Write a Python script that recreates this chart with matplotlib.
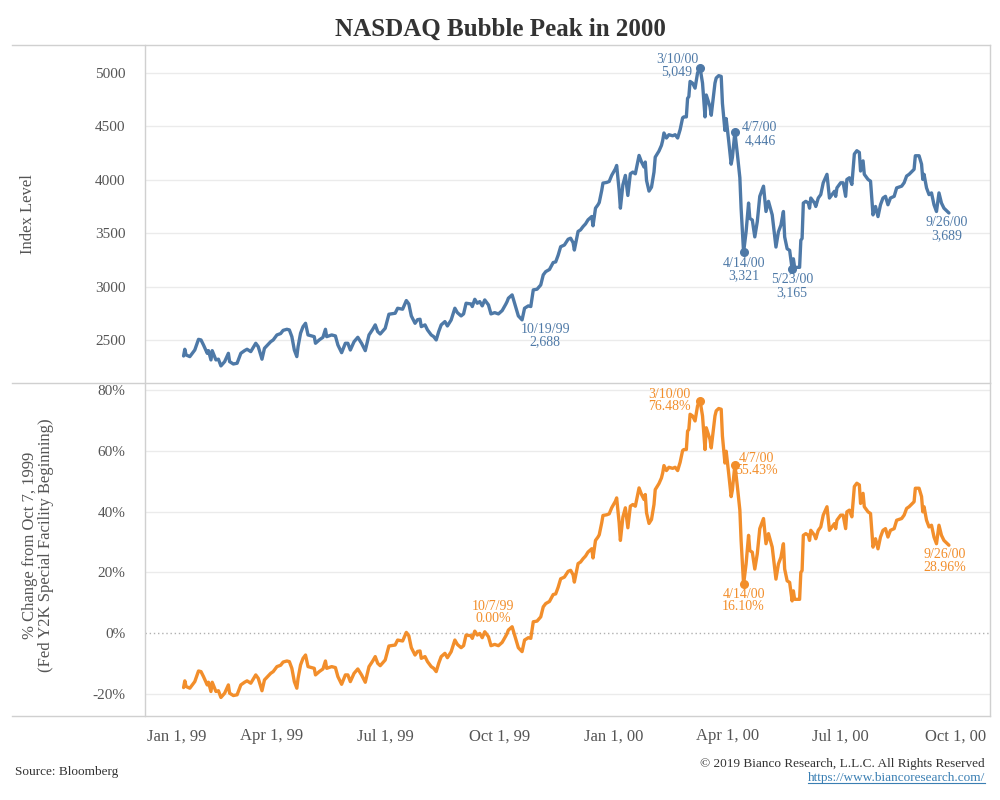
import numpy as np
import pandas as pd
import matplotlib
matplotlib.use("Agg")
import matplotlib.pyplot as plt
from matplotlib.lines import Line2D

plt.rcParams['font.family'] = ['Liberation Serif', 'DejaVu Serif']

# ---------------- data ----------------
dates = [
    "1999-01-20", "1999-01-21", "1999-01-22", "1999-01-25", "1999-01-29", "1999-02-01", "1999-02-03",
    "1999-02-05", "1999-02-08", "1999-02-09", "1999-02-11", "1999-02-12", "1999-02-15", "1999-02-17",
    "1999-02-19", "1999-02-22", "1999-02-25", "1999-02-26", "1999-03-01", "1999-03-04", "1999-03-07",
    "1999-03-10", "1999-03-12", "1999-03-15", "1999-03-19", "1999-03-21", "1999-03-24", "1999-03-26",
    "1999-03-31", "1999-04-02", "1999-04-05", "1999-04-08", "1999-04-10", "1999-04-13", "1999-04-15",
    "1999-04-17", "1999-04-19", "1999-04-21", "1999-04-22", "1999-04-24", "1999-04-26", "1999-04-28",
    "1999-04-30", "1999-05-03", "1999-05-05", "1999-05-06", "1999-05-09", "1999-05-12", "1999-05-14",
    "1999-05-15", "1999-05-19", "1999-05-22", "1999-05-24", "1999-05-27", "1999-05-30", "1999-06-01",
    "1999-06-03", "1999-06-06", "1999-06-09", "1999-06-12", "1999-06-15", "1999-06-18", "1999-06-21",
    "1999-06-23", "1999-06-25", "1999-06-27", "1999-07-01", "1999-07-04", "1999-07-09", "1999-07-11",
    "1999-07-15", "1999-07-18", "1999-07-20", "1999-07-22", "1999-07-25", "1999-07-27", "1999-07-29",
    "1999-07-30", "1999-08-02", "1999-08-04", "1999-08-07", "1999-08-09", "1999-08-11", "1999-08-13",
    "1999-08-15", "1999-08-18", "1999-08-20", "1999-08-23", "1999-08-26", "1999-08-28", "1999-08-31",
    "1999-09-02", "1999-09-04", "1999-09-08", "1999-09-09", "1999-09-11", "1999-09-13", "1999-09-15",
    "1999-09-17", "1999-09-19", "1999-09-22", "1999-09-24", "1999-09-27", "1999-09-30", "1999-10-03",
    "1999-10-06", "1999-10-07", "1999-10-08", "1999-10-11", "1999-10-13", "1999-10-16", "1999-10-18",
    "1999-10-19", "1999-10-21", "1999-10-24", "1999-10-26", "1999-10-28", "1999-10-31", "1999-11-03",
    "1999-11-05", "1999-11-07", "1999-11-10", "1999-11-13", "1999-11-15", "1999-11-17", "1999-11-19",
    "1999-11-22", "1999-11-25", "1999-11-27", "1999-11-29", "1999-11-30", "1999-12-03", "1999-12-05",
    "1999-12-07", "1999-12-09", "1999-12-11", "1999-12-14", "1999-12-15", "1999-12-17", "1999-12-19",
    "1999-12-20", "1999-12-22", "1999-12-23", "1999-12-26", "1999-12-28", "1999-12-30", "2000-01-02",
    "2000-01-03", "2000-01-05", "2000-01-06", "2000-01-08", "2000-01-10", "2000-01-12", "2000-01-14",
    "2000-01-16", "2000-01-18", "2000-01-21", "2000-01-23", "2000-01-25", "2000-01-26", "2000-01-27",
    "2000-01-29", "2000-01-31", "2000-02-02", "2000-02-03", "2000-02-06", "2000-02-08", "2000-02-09",
    "2000-02-10", "2000-02-12", "2000-02-14", "2000-02-17", "2000-02-19", "2000-02-21", "2000-02-23",
    "2000-02-25", "2000-02-26", "2000-02-28", "2000-02-29", "2000-03-01", "2000-03-02", "2000-03-04",
    "2000-03-06", "2000-03-08", "2000-03-10", "2000-03-12", "2000-03-14", "2000-03-15", "2000-03-18",
    "2000-03-19", "2000-03-22", "2000-03-23", "2000-03-25", "2000-03-27", "2000-03-28", "2000-03-30",
    "2000-03-31", "2000-04-02", "2000-04-04", "2000-04-05", "2000-04-07", "2000-04-09", "2000-04-11",
    "2000-04-12", "2000-04-14", "2000-04-16", "2000-04-18", "2000-04-19", "2000-04-21", "2000-04-23",
    "2000-04-25", "2000-04-27", "2000-04-30", "2000-05-02", "2000-05-04", "2000-05-07", "2000-05-10",
    "2000-05-12", "2000-05-14", "2000-05-16", "2000-05-17", "2000-05-19", "2000-05-21", "2000-05-23",
    "2000-05-24", "2000-05-25", "2000-05-29", "2000-05-30", "2000-05-31", "2000-06-01", "2000-06-03",
    "2000-06-05", "2000-06-06", "2000-06-07", "2000-06-10", "2000-06-11", "2000-06-13", "2000-06-15",
    "2000-06-17", "2000-06-20", "2000-06-22", "2000-06-24", "2000-06-26", "2000-06-27", "2000-06-28",
    "2000-07-01", "2000-07-03", "2000-07-05", "2000-07-06", "2000-07-08", "2000-07-10", "2000-07-12",
    "2000-07-14", "2000-07-16", "2000-07-17", "2000-07-19", "2000-07-20", "2000-07-23", "2000-07-25",
    "2000-07-27", "2000-07-29", "2000-07-31", "2000-08-02", "2000-08-04", "2000-08-06", "2000-08-08",
    "2000-08-10", "2000-08-13", "2000-08-15", "2000-08-19", "2000-08-21", "2000-08-23", "2000-08-25",
    "2000-08-29", "2000-08-30", "2000-09-02", "2000-09-04", "2000-09-05", "2000-09-06", "2000-09-08",
    "2000-09-10", "2000-09-12", "2000-09-14", "2000-09-16", "2000-09-18", "2000-09-20", "2000-09-22",
    "2000-09-26",
]

index_level = [
    2350, 2413, 2360, 2344, 2406, 2506, 2500,
    2453, 2375, 2400, 2313, 2400, 2313, 2320,
    2257, 2297, 2375, 2297, 2275, 2282, 2375,
    2400, 2413, 2391, 2469, 2437, 2320, 2422,
    2484, 2500, 2547, 2560, 2590, 2600, 2594,
    2531, 2406, 2344, 2437, 2563, 2625, 2656,
    2547, 2538, 2531, 2469, 2500, 2525, 2600,
    2531, 2547, 2538, 2453, 2381, 2469, 2469,
    2406, 2484, 2525, 2469, 2400, 2547, 2600,
    2641, 2578, 2556, 2609, 2741, 2750, 2797,
    2788, 2869, 2837, 2725, 2656, 2690, 2694,
    2625, 2641, 2594, 2547, 2531, 2500, 2578,
    2641, 2672, 2631, 2687, 2797, 2756, 2725,
    2744, 2844, 2837, 2813, 2881, 2844, 2859,
    2819, 2875, 2828, 2744, 2756, 2744, 2775,
    2837, 2860.6, 2891, 2922, 2844, 2725, 2700,
    2688, 2797, 2819, 2813, 2969, 2975, 3015,
    3109, 3140, 3160, 3225, 3231, 3294, 3373,
    3389, 3443, 3453, 3411, 3342, 3516, 3531,
    3562, 3587, 3625, 3656, 3569, 3734, 3766,
    3787, 3900, 3969, 3975, 3984, 4041, 4103,
    4134, 3900, 3734, 3953, 4041, 3853, 4056,
    4072, 4056, 4228, 4166, 4119, 4166, 3994,
    3894, 3931, 4072, 4212, 4269, 4322, 4369,
    4438, 4391, 4422, 4412, 4422, 4391, 4469,
    4580, 4589, 4589, 4763, 4778, 4921, 4905,
    4858, 5000, 5049, 4905, 4589, 4794, 4684,
    4604, 4905, 4953, 4975, 4968, 4715, 4462,
    4573, 4367, 4146, 4209, 4446, 4241, 4019,
    3734, 3321, 3513, 3782, 3639, 3623, 3465,
    3608, 3845, 3940, 3703, 3798, 3671, 3370,
    3513, 3576, 3703, 3465, 3354, 3339, 3165,
    3260, 3180, 3180, 3434, 3450, 3782, 3798,
    3782, 3734, 3829, 3782, 3750, 3829, 3861,
    3972, 4051, 3829, 3861, 3892, 3845, 3924,
    3972, 3972, 3845, 4003, 4019, 3956, 4241,
    4272, 4256, 4082, 4177, 4051, 4003, 3987,
    3671, 3750, 3655, 3766, 3829, 3845, 3766,
    3829, 3845, 3924, 3940, 3972, 4035, 4051,
    4098, 4225, 4225, 4146, 4003, 4051, 3924,
    3861, 3877, 3766, 3703, 3877, 3782, 3734,
    3689,
]

base_date = "1999-10-07"          # Fed Y2K special facility beginning

top_ticks = [2500, 3000, 3500, 4000, 4500, 5000]
bottom_ticks = [-20, 0, 20, 40, 60, 80]
x_tick_dates = ["1999-01-01", "1999-04-01", "1999-07-01", "1999-10-01",
                "2000-01-01", "2000-04-01", "2000-07-01", "2000-10-01"]
x_tick_labels = ["Jan 1, 99", "Apr 1, 99", "Jul 1, 99", "Oct 1, 99",
                 "Jan 1, 00", "Apr 1, 00", "Jul 1, 00", "Oct 1, 00"]

top_label_dates = ["2000-03-10", "2000-04-07", "2000-04-14", "2000-05-23", "2000-09-26", "1999-10-19"]
top_label_texts = ["3/10/00\n5,049", "4/7/00\n4,446", "4/14/00\n3,321", "5/23/00\n3,165",
                   "9/26/00\n3,689", "10/19/99\n2,688"]
top_label_dot = [True, True, True, True, False, False]

bottom_label_dates = ["2000-03-10", "2000-04-07", "2000-04-14", "2000-09-26", "1999-10-07"]
bottom_label_texts = ["3/10/00\n76.48%", "4/7/00\n55.43%", "4/14/00\n16.10%",
                      "9/26/00\n28.96%", "10/7/99\n0.00%"]
bottom_label_dot = [True, True, True, False, False]

# ---------------- styling ----------------
BLUE = "#4e79a7"
ORANGE = "#f28e2b"
GRID = "#ebebeb"
FRAME = "#d0d0d0"
TXT = "#555555"

top_offsets = [(-23, 2), (25, -2), (0, -17), (0, -17), (-2, -16), (23, -16)]
bottom_offsets = [(-31, 0), (22, 0), (0, -16), (-4, -16), (-14, 21)]

x = pd.to_datetime(dates)
level = np.array(index_level, dtype=float)
base_value = level[list(dates).index(base_date)]
pct = (level / base_value - 1.0) * 100.0

W, H = 1000, 800
fig = plt.figure(figsize=(10, 8), dpi=100)
fig.patch.set_facecolor("white")

def fx(px):
    return px / W

def fy(py):
    return 1 - py / H

L, R = 145, 990
T1, M, B2 = 45, 383, 716
ax1 = fig.add_axes([fx(L), fy(M), fx(R - L), (M - T1) / H])
ax2 = fig.add_axes([fx(L), fy(B2), fx(R - L), (B2 - M) / H])

xlim = (pd.Timestamp("1998-12-20"), pd.Timestamp("2000-10-29"))

for ax in (ax1, ax2):
    ax.set_xlim(*xlim)
    for s in ("top", "bottom"):
        ax.spines[s].set_visible(False)
    for s in ("left", "right"):
        ax.spines[s].set_color(FRAME)
        ax.spines[s].set_linewidth(1)
    ax.tick_params(axis="y", length=0, pad=14, labelsize=11, labelcolor=TXT)
    ax.tick_params(axis="x", length=0)
    ax.set_facecolor("white")

# gridlines
ax1.set_ylim(2097, 5262)
ax1.set_yticks(top_ticks)
ax1.set_yticklabels([str(t) for t in top_ticks])
for t in top_ticks:
    ax1.axhline(t, color=GRID, lw=1, zorder=0)
ax1.set_xticks([])

ax2.set_ylim(-27.2, 82.3)
ax2.set_yticks(bottom_ticks)
ax2.set_yticklabels([f"{t}%" for t in bottom_ticks])
for t in bottom_ticks:
    if t == 0:
        ax2.axhline(t, color="#b0b0b0", lw=1, ls=(0, (1, 2)), zorder=0)
    else:
        ax2.axhline(t, color=GRID, lw=1, zorder=0)

ax1.plot(x, level, color=BLUE, lw=2.4, solid_joinstyle="round", solid_capstyle="round", zorder=3)
ax2.plot(x, pct, color=ORANGE, lw=2.4, solid_joinstyle="round", solid_capstyle="round", zorder=3)

# x tick labels
ax2.set_xticks(pd.to_datetime(x_tick_dates[1:]))
ax2.set_xticklabels(x_tick_labels[1:], fontsize=12, color=TXT)
ax2.tick_params(axis="x", pad=9)
ax2.text(0.002, -0.0, x_tick_labels[0], transform=ax2.transAxes, fontsize=12, color=TXT,
         ha="left", va="top")
# shift first label to align with the others
fig.canvas.draw()
ref = ax2.get_xticklabels()[0].get_window_extent()
first = ax2.texts[-1]
first.set_transform(matplotlib.transforms.blended_transform_factory(ax2.transAxes, fig.transFigure))
first.set_position((0.002, ref.y1 / H))

# annotations
def annotate(ax, ldates, texts, dots, offsets, yvals, color):
    for d, t, dot, off in zip(ldates, texts, dots, offsets):
        i = list(dates).index(d)
        xd, yd = x[i], yvals[i]
        if dot:
            ax.plot([xd], [yd], "o", ms=5.5, color=color, zorder=4)
        ax.annotate(t, (xd, yd), xytext=off, textcoords="offset pixels",
                    ha="center", va="center", fontsize=10, color=color,
                    linespacing=0.95, zorder=5)

annotate(ax1, top_label_dates, top_label_texts, top_label_dot, top_offsets, level, BLUE)
annotate(ax2, bottom_label_dates, bottom_label_texts, bottom_label_dot, bottom_offsets, pct, ORANGE)

# frame lines across the figure
for py in (T1, M, B2):
    fig.add_artist(Line2D([fx(12), fx(R)], [fy(py), fy(py)], color=FRAME, lw=1))

# titles and axis labels
fig.text(0.5, fy(29), "NASDAQ Bubble Peak in 2000", ha="center", va="center",
         fontsize=18, fontweight="bold", color="#333333")
fig.text(fx(28), fy(214), "Index Level", rotation=90, ha="center", va="center",
         fontsize=12, color=TXT)
fig.text(fx(38), fy(545), "% Change from Oct 7, 1999\n(Fed Y2K Special Facility Beginning)",
         rotation=90, ha="center", va="center", fontsize=12, color=TXT, linespacing=1.05)

# footer
fig.text(fx(15), fy(772), "Source: Bloomberg", ha="left", va="center", fontsize=9.5, color="#333333")
fig.text(fx(985), fy(764), "\u00a9 2019 Bianco Research, L.L.C. All Rights Reserved",
         ha="right", va="center", fontsize=9.5, color="#333333")
url = fig.text(fx(985), fy(778), "https://www.biancoresearch.com/", ha="right", va="center",
               fontsize=9.5, color="#3a7fb3")
fig.canvas.draw()
bb = url.get_window_extent()
fig.add_artist(Line2D([bb.x0 / W, bb.x1 / W], [(bb.y0 + 1) / H, (bb.y0 + 1) / H],
                      color="#3a7fb3", lw=0.8))

fig.savefig("out.png", dpi=100, facecolor="white")
